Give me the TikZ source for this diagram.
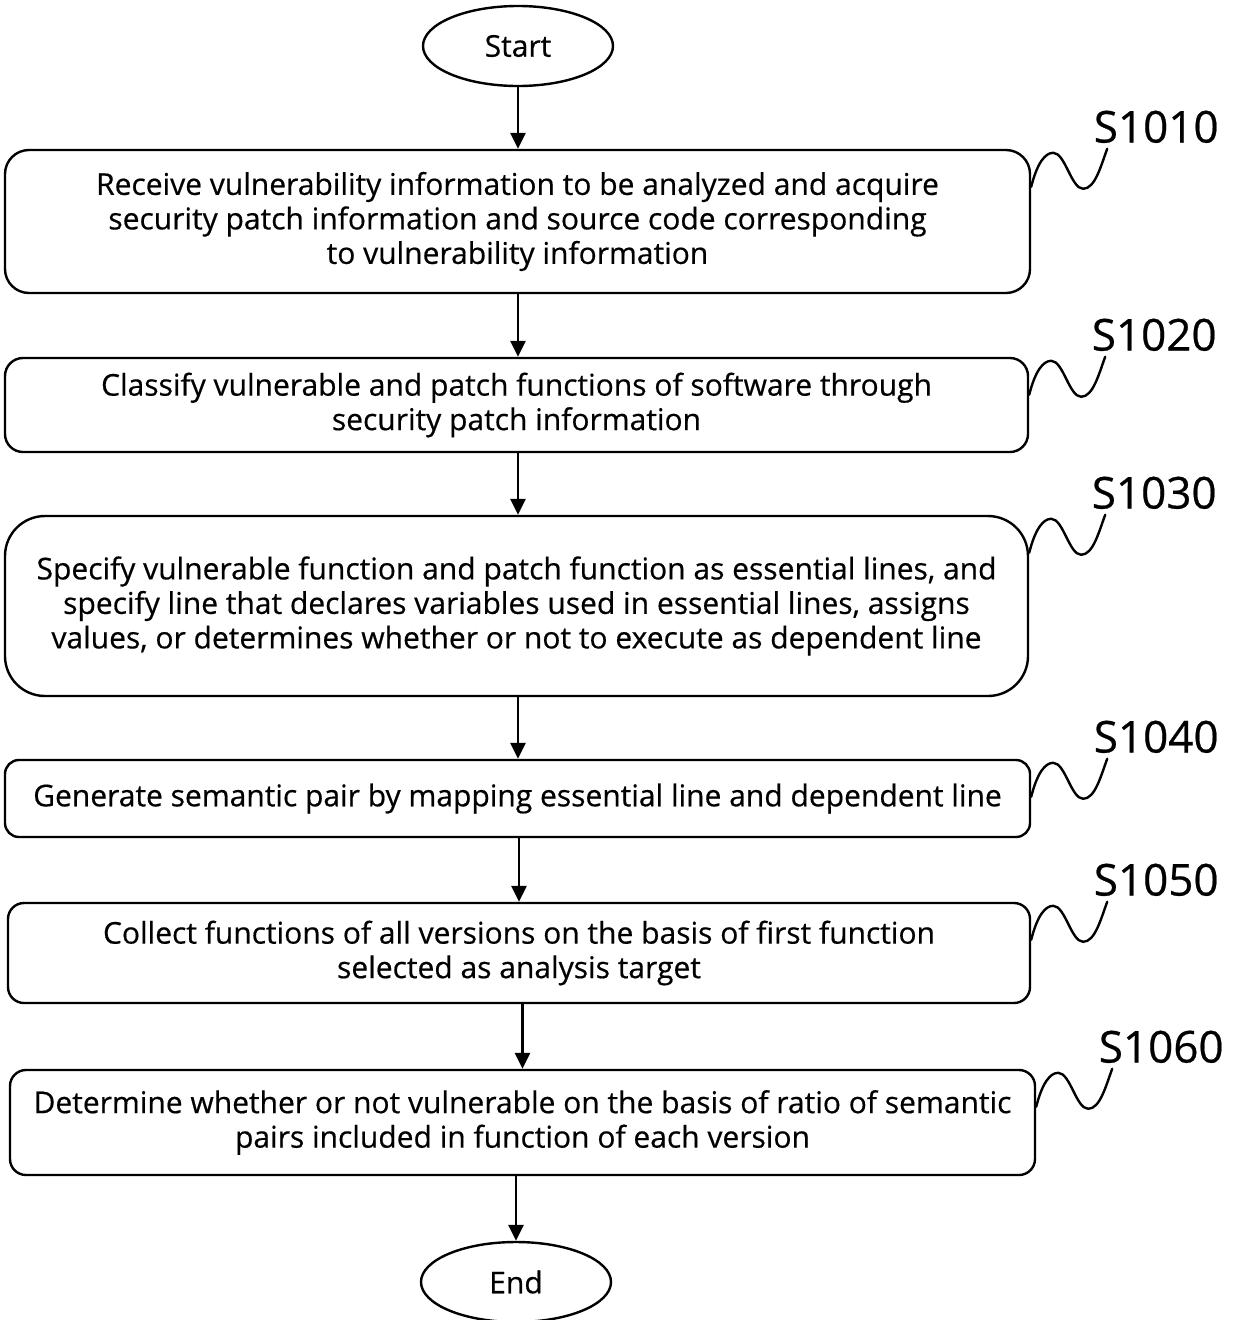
\documentclass[tikz,border=0pt]{standalone}
\usepackage{fontspec}
\setmainfont[FakeBold=0.5]{Open Sans}
\usetikzlibrary{shapes.geometric,arrows.meta}
\begin{document}
\begin{tikzpicture}[x=1pt,y=-1pt,
  stepbox/.style={draw,line width=2.4pt,rectangle,inner sep=0pt,align=center,
    font=\fontsize{30}{34.5}\selectfont},
  term/.style={draw,line width=2.4pt,ellipse,inner sep=0pt,minimum width=190pt,
    minimum height=80pt,font=\fontsize{30}{34}\selectfont},
  arr/.style={line width=2.6pt,-{Triangle[length=16pt,width=15pt]}},
  wave/.style={line width=2.4pt,line cap=round},
  steplabel/.style={font=\fontsize{44}{48}\selectfont,inner sep=0pt}]
\useasboundingbox (0,0) rectangle (1234,1320);

\node[term] (start) at (518,46) {Start};

\node[stepbox,minimum width=1025pt,minimum height=143pt,rounded corners=24pt]
  (b1) at (517.5,221.5)
  {Receive vulnerability information to be analyzed and acquire\\
   security patch information and source code corresponding\\
   to vulnerability information};
\node[stepbox,minimum width=1023pt,minimum height=94pt,rounded corners=18pt]
  (b2) at (516.5,405)
  {Classify vulnerable and patch functions of software through\\
   security patch information};
\node[stepbox,minimum width=1023pt,minimum height=180pt,rounded corners=40pt]
  (b3) at (516.5,606)
  {Specify vulnerable function and patch function as essential lines, and\\
   specify line that declares variables used in essential lines, assigns\\
   values, or determines whether or not to execute as dependent line};
\node[stepbox,minimum width=1025pt,minimum height=77pt,rounded corners=14pt]
  (b4) at (517.5,798.5)
  {Generate semantic pair by mapping essential line and dependent line};
\node[stepbox,minimum width=1022pt,minimum height=100pt,rounded corners=16pt]
  (b5) at (519,953)
  {Collect functions of all versions on the basis of first function\\
   selected as analysis target};
\node[stepbox,minimum width=1025pt,minimum height=105pt,rounded corners=16pt]
  (b6) at (522.5,1122.5)
  {Determine whether or not vulnerable on the basis of ratio of semantic\\
   pairs included in function of each version};

\node[term] (end) at (516,1282) {End};

% flow arrows
\draw[arr] (start) -- (start |- b1.north);
\draw[arr] (b1.south -| start) -- (b2.north -| start);
\draw[arr] (b2.south -| start) -- (b3.north -| start);
\draw[arr] (b3.south -| start) -- (b4.north -| start);
\draw[arr] (b4.south -| b5.north) -- (b5.north);
\draw[arr] (b5.south -| b6.north) -- (b6.north);
\draw[arr] (b6.south -| end) -- (end);

% reference marks: wavy leader from each box to its step number
\foreach \b/\t in {b1/S1010,b2/S1020,b3/S1030,b4/S1040,b5/S1050,b6/S1060}{
  \coordinate (w\b) at ([yshift=-38pt]\b.north east);
  \begin{scope}[shift={(w\b)}]
    \draw[wave] (0,0) .. controls (6,-24) and (14,-34) .. (22,-34)
      .. controls (34,-34) and (40,2) .. (52,2)
      .. controls (64,2) and (70,-22) .. (76,-38);
    \node[steplabel] (l\b) at (125,-60) {\t};
  \end{scope}
}
\end{tikzpicture}
\end{document}
